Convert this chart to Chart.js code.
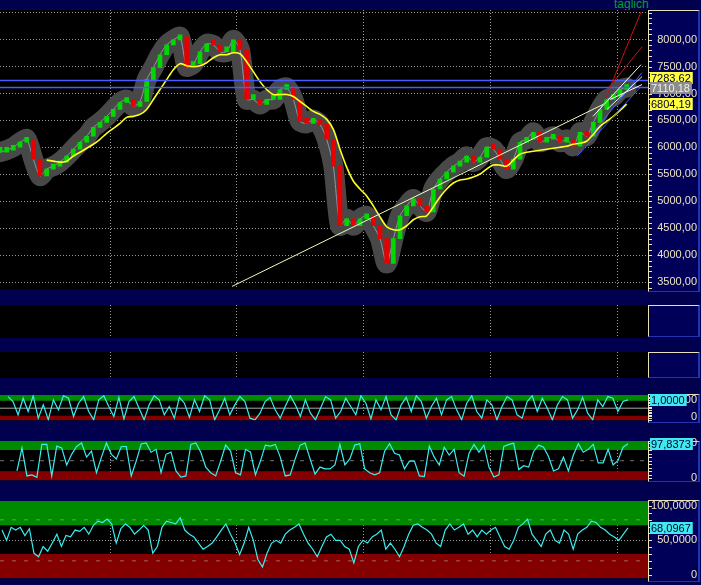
<!DOCTYPE html>
<html>
<head>
<meta charset="utf-8">
<script src="https://cdn.jsdelivr.net/npm/chart.js@4.4.1/dist/chart.umd.min.js"></script>
<style>
  body { margin: 0; width: 701px; height: 585px; overflow: hidden; position: relative; background: #00004e; }
  canvas { position: absolute; left: 0; }
  .box { position: absolute; left: 648px; width: 49px; background: #000058;
         border-top: 1px solid #e8e0b8; border-left: 1px solid #e8e0b8;
         border-right: 2px solid #2434b0; border-bottom: 1px solid #2434b0; }
  #tag { position: absolute; left: 614px; top: -3px; color: #00a030; font: 12px "Liberation Sans", Arial, sans-serif; }
</style>
</head>
<body>
<div class="box" style="top:10px;height:280px"></div>
<div class="box" style="top:305px;height:30px"></div>
<div class="box" style="top:352px;height:24px"></div>
<div class="box" style="top:394px;height:27px"></div>
<div class="box" style="top:441px;height:39px"></div>
<div class="box" style="top:500px;height:80px"></div>
<div id="tag">taglich</div>
<canvas id="main" width="701" height="296" style="top:0"></canvas>
<canvas id="empty1" width="701" height="42" style="top:300px"></canvas>
<canvas id="empty2" width="701" height="36" style="top:346px"></canvas>
<canvas id="oscA" width="701" height="42" style="top:385px"></canvas>
<canvas id="oscB" width="701" height="55" style="top:432px"></canvas>
<canvas id="oscC" width="701" height="93" style="top:492px"></canvas>
<script>
// price panel (one value every bar, bar = 6.67px)
const closes = [5911, 5948, 6004, 6096, 6151, 5782, 5469, 5598, 5653, 5727,
  5838, 5967, 6096, 6207, 6373, 6465, 6576, 6705, 6834, 6889,
  6760, 6852, 7258, 7480, 7720, 7904, 7996, 8052, 7498, 7553,
  7775, 7922, 7904, 7775, 7775, 7996, 7812, 6889, 6889, 6797,
  6889, 6889, 7074, 7111, 6889, 6483, 6446, 6520, 6428, 6151,
  5653, 4546, 4675, 4546, 4675, 4731, 4546, 4306, 3845, 4306,
  4731, 4915, 5044, 4915, 4804, 5229, 5413, 5542, 5653, 5727,
  5838, 5727, 5819, 6004, 5967, 5782, 5598, 5782, 6096, 6151,
  6280, 6096, 6151, 6207, 6096, 6151, 6022, 6280, 6207, 6465,
  6705, 6889, 6945, 7074, 7110.18];
const average = [null, null, null, null, null, null, null, 5764, 5745, 5727,
  5745, 5838, 5911, 5985, 6059, 6151, 6262, 6354, 6446, 6557,
  6576, 6613, 6705, 6889, 7074, 7258, 7443, 7553, 7517, 7498,
  7517, 7572, 7664, 7720, 7720, 7756, 7738, 7590, 7406, 7221,
  7074, 6982, 6982, 6982, 6945, 6852, 6760, 6668, 6613, 6520,
  6336, 5967, 5635, 5376, 5229, 5100, 4915, 4712, 4528, 4472,
  4472, 4546, 4657, 4712, 4731, 4897, 5081, 5229, 5339, 5395,
  5413, 5450, 5506, 5598, 5672, 5672, 5653, 5764, 5875, 5911,
  5930, 5948, 5967, 5985, 6004, 6022, 6059, 6077, 6114, 6244,
  6391, 6483, 6576, 6686, 6804.19];
const priceTicks = [3500, 4000, 4500, 5000, 5500, 6000, 6500, 7000, 7500, 8000, 8500];
const gridX = [16.5, 35.5, 54.5, 73.5, 92.6];
const levels = [7240, 7110];
const trendFrom = [34.8, 3420];
const trendTo = [90.45, 6797];
const fanFrom = [[90.75, 6889], [91.95, 7203], [88.95, 6576], [91.05, 6705], [91.5, 6889], [88.5, 6207], [86.55, 5838]];
const fanTo = [[96.15, 8513], [96.3, 7867], [96.15, 7535], [96.3, 7314], [96.3, 7166], [96.3, 7387], [96, 7111]];
const fanColors = ['#d01010', '#c01818', '#ffffff', '#f0f0f0', '#ffffff', '#4a64ff', '#3c58f0'];
const priceMarks = [7283.62, 7110.18, 6804.19];

// oscillators
const oscFast = [1.2, 0.9, 0.1, 1.1, 0.3, 1.25, -0.1, 0.7, -0.2, 1.0, 0.4, 1.25, 1.1, 0.0, 0.8, 1.2, 0.3, -0.2, 1.0, 1.25,
  0.6, 0.0, 1.15, -0.15, 0.9, 1.2, 0.5, -0.2, 0.7, 1.25, 1.0, 0.1, 0.6, -0.1, 1.15, 0.8, -0.05, 1.0, 0.3, 1.25,
  1.0, -0.2, 0.4, 1.1, 0.1, 0.7, 1.2, 0.9, -0.1, -0.2, 0.2, 0.9, 1.15, 0.4, -0.1, 0.6, 1.25, 0.7, 0.0, 1.0,
  0.2, -0.2, 0.5, 1.2, 1.0, -0.1, 0.3, 1.1, 0.6, 0.1, 1.25, 0.8, -0.15, 1.0, 0.4, 1.2, 0.1, -0.2, 0.7, 1.15,
  0.3, 1.25, 0.9, -0.1, 0.6, 1.1, 0.1, 1.0, 1.2, 0.4, -0.2, 0.8, 1.25, 0.3, -0.1, 1.0, 0.7, -0.2, 0.6, 1.2,
  1.0, 0.1, -0.1, 0.9, 1.25, 0.3, 1.1, 0.5, -0.2, 0.7, 1.2, 1.0, -0.1, 0.4, 1.15, 0.2, -0.2, 1.0, 0.6, 1.2,
  1.1, 0.3, 0.9, 1.0];
const oscStoch = [21, 86, 7, 10, 3, 96, 96, 7, 91, 86, 38, 68, 90, 100, 60, 77, 16, 60, 100, 68,
  55, 90, 90, 7, 49, 97, 100, 74, 82, 16, 68, 74, 21, 4, 7, 96, 100, 74, 32, 16,
  7, 49, 94, 77, 16, 10, 82, 74, 10, 49, 94, 91, 96, 60, 7, 10, 55, 94, 100, 55,
  12, 32, 27, 27, 38, 96, 38, 55, 94, 98, 27, 16, 10, 16, 77, 98, 71, 66, 27, 49,
  49, 7, 5, 91, 60, 38, 88, 66, 82, 16, 6, 71, 96, 74, 94, 32, 4, 10, 90, 96,
  99, 25, 36, 32, 76, 94, 88, 62, 21, 27, 60, 21, 66, 98, 74, 82, 96, 44, 44, 82,
  38, 51, 88, 97.8373];
const oscSlow = [65, 50, 69, 65, 69, 57, 67, 31, 26, 41, 34, 46, 59, 41, 57, 55, 65, 63, 69, 59,
  72, 78, 76, 81, 74, 46, 67, 74, 69, 59, 65, 72, 65, 31, 41, 69, 78, 76, 74, 83,
  65, 59, 55, 46, 37, 41, 46, 55, 65, 74, 59, 46, 29, 46, 69, 50, 22, 11, 31, 46,
  50, 46, 59, 65, 69, 74, 59, 46, 37, 26, 41, 55, 59, 50,
  50, 41, 37, 17, 41, 50, 46, 55, 59, 65, 37, 46, 37, 26, 41, 59, 72, 74, 69, 65,
  59, 46, 41, 65, 74, 65, 69, 74, 59, 65, 55, 65, 59, 65, 69, 55, 41, 37, 50, 69,
  74, 81, 59, 50, 41, 59, 65, 50, 46, 65, 59, 37, 59, 65, 69, 78, 76, 69, 65, 59,
  55, 50, 59, 68.0967];
const zonesA = [0.05, 0.95], zonesB = [20, 80], zonesC = [30, 72];

const FONT = '"Liberation Sans", Arial, sans-serif';
const FSIZE = 11;
const CREAM = '#ece4c0';
const XMAX = 97.2;
const fmt = (v, d) => v === 0 ? '0' : v.toFixed(d).replace('.', ',');
const pts = arr => arr.map((y, i) => ({x: i, y}));
const spread = (arr, x0, x1) => arr.map((y, k) => ({x: x0 + k * (x1 - x0) / (arr.length - 1), y}));
const flat = v => [{x: 0, y: v}, {x: XMAX, y: v}];

const paintArea = {
  id: 'paintArea',
  beforeDraw(chart) {
    const {ctx, chartArea: a} = chart;
    ctx.save();
    ctx.fillStyle = '#000000';
    ctx.fillRect(a.left, a.top, a.right - a.left, a.bottom - a.top);
    ctx.restore();
  }
};
const minorTicks = {
  id: 'minorTicks',
  afterDraw(chart, args, opts) {
    const s = chart.scales.y;
    if (!s || !opts.step) return;
    const ctx = chart.ctx;
    ctx.save();
    ctx.strokeStyle = CREAM;
    ctx.lineWidth = 1;
    ctx.beginPath();
    for (let v = Math.ceil(s.min / opts.step) * opts.step; v <= s.max; v += opts.step) {
      const y = Math.round(s.getPixelForValue(v)) + 0.5;
      ctx.moveTo(s.left, y);
      ctx.lineTo(s.left + 4, y);
    }
    ctx.stroke();
    ctx.restore();
  }
};
const valueBoxes = {
  id: 'valueBoxes',
  afterDraw(chart, args, opts) {
    const s = chart.scales.y;
    if (!s || !opts.items) return;
    const ctx = chart.ctx;
    ctx.save();
    ctx.font = FSIZE + 'px ' + FONT;
    ctx.textBaseline = 'middle';
    opts.items.forEach(it => {
      const y = Math.round(s.getPixelForValue(it.value));
      const w = ctx.measureText(it.text).width + 3;
      ctx.fillStyle = it.bg;
      ctx.fillRect(s.left + 2, y - 6, w, 12);
      ctx.fillStyle = it.fg;
      ctx.fillText(it.text, s.left + 3, y + 1);
    });
    ctx.restore();
  }
};

function xScale() {
  return {
    type: 'linear', min: 0, max: XMAX, offset: false,
    ticks: {display: false},
    border: {display: false, dash: [1, 2]},
    grid: {color: '#9a9a9a', drawTicks: false, offset: false},
    afterBuildTicks: ax => { ax.ticks = gridX.map(value => ({value})); }
  };
}
function yScale(min, max, ticks, digits, gridOn) {
  return {
    type: 'linear', position: 'right', min, max,
    afterBuildTicks: ax => { ax.ticks = ticks.map(value => ({value})); },
    afterFit: ax => { ax.width = 49; },
    ticks: {
      color: CREAM, font: {family: FONT, size: FSIZE}, crossAlign: 'far', padding: 0,
      callback: v => (v > 8000 ? '' : fmt(v, digits))
    },
    grid: {color: '#9a9a9a', drawTicks: false, drawOnChartArea: gridOn},
    border: {color: CREAM, dash: [1, 2]}
  };
}
function baseOptions(padding, yOpt, plugins) {
  return {
    responsive: false, animation: false, devicePixelRatio: 1,
    layout: {padding},
    scales: {x: xScale(), y: yOpt},
    plugins: Object.assign({legend: {display: false}, tooltip: {enabled: false}}, plugins)
  };
}
const line = (data, color, width, order, extra) =>
  Object.assign({type: 'line', data, borderColor: color, borderWidth: width, pointRadius: 0, tension: 0, order}, extra || {});

// main price chart
const mainSets = [
  line(pts(closes), '#484848', 20, 9, {tension: 0.25, borderJoinStyle: 'round', borderCapStyle: 'round'}),
  line(pts(closes), '#9494a4', 1, 8, {tension: 0.25}),
  {
    type: 'bar', order: 7, barThickness: 4, minBarLength: 5,
    data: closes.map((v, i) => ({x: i, y: [i ? closes[i - 1] : v, v]})),
    backgroundColor: closes.map((v, i) => (i && v < closes[i - 1] ? '#e80000' : '#00d800'))
  },
  line(pts(average), '#ffff20', 1.6, 6, {tension: 0.3}),
  line([{x: trendFrom[0], y: trendFrom[1]}, {x: trendTo[0], y: trendTo[1]}], '#e8ffc0', 1, 5)
];
levels.forEach(v => mainSets.push(line(flat(v), '#4a5cff', 1.5, 4)));
fanFrom.forEach((p, k) => mainSets.push(line([{x: p[0], y: p[1]}, {x: fanTo[k][0], y: fanTo[k][1]}], fanColors[k], 1, 3)));

new Chart(document.getElementById('main'), {
  type: 'line',
  data: {datasets: mainSets},
  options: baseOptions({top: 10, bottom: 5, right: 4, left: 0},
    yScale(3365, 8550, priceTicks, 2, true),
    {minorTicks: {step: 100}, valueBoxes: {items: [
      {value: priceMarks[0], text: fmt(priceMarks[0], 2), bg: '#ffff40', fg: '#000030'},
      {value: priceMarks[1], text: fmt(priceMarks[1], 2), bg: '#8c8c8c', fg: '#f0f0f0'},
      {value: priceMarks[2], text: fmt(priceMarks[2], 2), bg: '#ffff40', fg: '#000030'}
    ]}}),
  plugins: [paintArea, minorTicks, valueBoxes]
});

// two empty panels
[['empty1', {top: 5, bottom: 4, right: 53}], ['empty2', {top: 6, bottom: 4, right: 53}]].forEach(([id, pad]) => {
  new Chart(document.getElementById(id), {
    type: 'line',
    data: {datasets: []},
    options: baseOptions(pad, {display: false, min: 0, max: 1}, {}),
    plugins: [paintArea]
  });
});

// oscillator panels
function oscChart(id, padding, min, max, ticks, digits, series, x0, zones, guides, step, gridOn) {
  const sets = [
    line(spread(series, x0, 94.2), '#38eef0', 1.2, 1),
    line(flat(zones[1]), 'rgba(0,0,0,0)', 0, 5, {fill: 'end', backgroundColor: '#008a00'}),
    line(flat(zones[0]), 'rgba(0,0,0,0)', 0, 5, {fill: 'start', backgroundColor: '#840000'})
  ];
  guides.forEach(g => sets.push(line(flat(g.value), g.color, 1, 3, {borderDash: g.dash})));
  const last = series[series.length - 1];
  new Chart(document.getElementById(id), {
    type: 'line',
    data: {datasets: sets},
    options: baseOptions(padding, yScale(min, max, ticks, digits, gridOn),
      {minorTicks: {step}, valueBoxes: {items: [{value: last, text: fmt(last, 4), bg: '#40e8f0', fg: '#000030'}]}}),
    plugins: [paintArea, minorTicks, valueBoxes]
  });
}
oscChart('oscA', {top: 10, bottom: 6, right: 4}, -0.235, 1.294, [0, 1], 4, oscFast, 1.2, zonesA,
  [{value: 0.5, color: '#a8a8a8', dash: []}], 0.1, false);
oscChart('oscB', {top: 9, bottom: 6, right: 4}, -5.56, 105.56, [0, 100], 4, oscStoch, 2.55, zonesB,
  [{value: 50, color: '#707070', dash: [4, 6]}], 10, false);
oscChart('oscC', {top: 9, bottom: 4, right: 4}, -5.66, 107.5, [0, 50, 100], 4, oscSlow, 0.3, zonesC,
  [{value: 80, color: '#60a060', dash: [4, 8]}, {value: 20, color: '#a06060', dash: [4, 8]}], 10, true);
</script>
</body>
</html>
